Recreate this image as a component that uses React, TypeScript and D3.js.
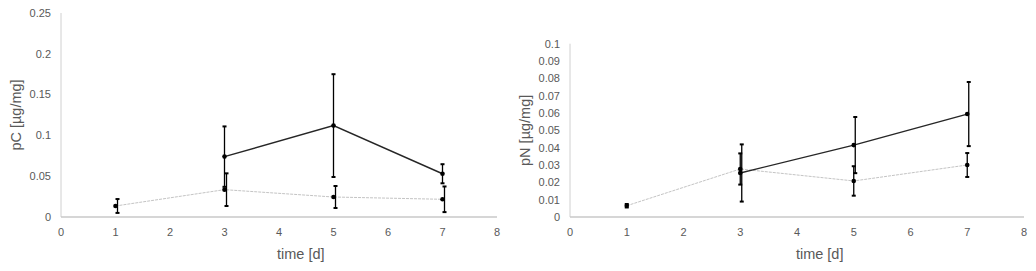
import React from 'react';
import * as d3 from 'd3';

// time points [d]
const days = [1, 3, 5, 7];
const xTicks = [0, 1, 2, 3, 4, 5, 6, 7, 8];

// pC [µg/mg]
const pcDark = [null, 0.074, 0.112, 0.053];
const pcDarkErr = [null, 0.037, 0.063, 0.0117];
const pcLight = [0.0135, 0.0335, 0.0245, 0.0217];
const pcLightErr = [0.0085, 0.02, 0.0135, 0.0157];
const pcTicks = [0, 0.05, 0.1, 0.15, 0.2, 0.25];

// pN [µg/mg]
const pnDark = [null, 0.0254, 0.0415, 0.0594];
const pnDarkErr = [null, 0.0165, 0.0162, 0.0185];
const pnLight = [0.0065, 0.0277, 0.0208, 0.03];
const pnLightErr = [0.001, 0.009, 0.0085, 0.0069];
const pnTicks = [0, 0.01, 0.02, 0.03, 0.04, 0.05, 0.06, 0.07, 0.08, 0.09, 0.1];

const FONT = '"Liberation Sans", Arial, sans-serif';
const TEXT = '#595959';

interface PanelProps {
  x0: number;
  x1: number;
  yTop: number;
  yMax: number;
  yTicks: number[];
  dark: (number | null)[];
  darkErr: (number | null)[];
  light: number[];
  lightErr: number[];
  yLabel: string;
  darkBarShift: number;
  lightBarShift: number;
}

const Panel: React.FC<PanelProps> = ({
  x0, x1, yTop, yMax, yTicks, dark, darkErr, light, lightErr, yLabel, darkBarShift, lightBarShift,
}) => {
  const yBottom = 217;
  const x = d3.scaleLinear().domain([0, 8]).range([x0, x1]);
  const y = d3.scaleLinear().domain([0, yMax]).range([yBottom, yTop]);

  const darkPts = days
    .map((d, i) => ({ d, v: dark[i], e: darkErr[i] }))
    .filter((p) => p.v !== null) as { d: number; v: number; e: number }[];
  const lightPts = days.map((d, i) => ({ d, v: light[i], e: lightErr[i] }));

  const line = d3
    .line<{ d: number; v: number }>()
    .x((p) => x(p.d))
    .y((p) => y(p.v));

  const errBar = (cx: number, v: number, e: number, key: string) => (
    <g key={key} stroke="#000" strokeWidth={1.3}>
      <line x1={cx} x2={cx} y1={y(v + e)} y2={y(v - e)} />
      <line x1={cx - 2} x2={cx + 2} y1={y(v + e)} y2={y(v + e)} strokeWidth={2} />
      <line x1={cx - 2} x2={cx + 2} y1={y(v - e)} y2={y(v - e)} strokeWidth={2} />
    </g>
  );

  const fmt = (t: number) => String(+t.toFixed(3));
  const midY = (yTop + yBottom) / 2;

  return (
    <g>
      {/* axes */}
      <line x1={x0} x2={x0} y1={yTop} y2={yBottom} stroke="#d0d0d0" />
      <line x1={x0} x2={x1} y1={yBottom} y2={yBottom} stroke="#c8c8c8" strokeWidth={1.3} />
      {yTicks.map((t) => (
        <text key={t} x={x0 - 10} y={y(t)} dy="0.35em" textAnchor="end" fontSize={11} fill={TEXT} fontFamily={FONT}>
          {fmt(t)}
        </text>
      ))}
      {xTicks.map((t) => (
        <text key={t} x={x(t)} y={yBottom + 19} textAnchor="middle" fontSize={11} fill={TEXT} fontFamily={FONT}>
          {t}
        </text>
      ))}
      <text
        transform={`translate(${x0 - 40},${midY}) rotate(-90)`}
        textAnchor="middle"
        fontSize={14.5}
        fill={TEXT}
        fontFamily={FONT}
      >
        {yLabel}
      </text>
      <text x={x(4.4)} y={259} textAnchor="middle" fontSize={14.5} fill={TEXT} fontFamily={FONT}>
        time [d]
      </text>

      {/* light series */}
      <path d={line(lightPts) ?? ''} fill="none" stroke="#c4c4c4" strokeWidth={1} strokeDasharray="3,1" />
      {/* dark series */}
      <path d={line(darkPts) ?? ''} fill="none" stroke="#262626" strokeWidth={1.4} />

      {darkPts.map((p, i) => errBar(x(p.d) + darkBarShift, p.v, p.e, `de${i}`))}
      {lightPts.map((p, i) => errBar(x(p.d) + lightBarShift, p.v, p.e, `le${i}`))}

      {darkPts.map((p, i) => (
        <circle key={`dm${i}`} cx={x(p.d)} cy={y(p.v)} r={2.3} fill="#000" />
      ))}
      {lightPts.map((p, i) => (
        <circle key={`lm${i}`} cx={x(p.d)} cy={y(p.v)} r={2.3} fill="#000" />
      ))}
    </g>
  );
};

export default function App() {
  return (
    <svg width={1036} height={271} style={{ position: 'absolute', left: 0, top: 0, background: '#fff' }}>
      <rect width={1036} height={271} fill="#fff" />
      <Panel
        x0={61}
        x1={497}
        yTop={13}
        yMax={0.25}
        yTicks={pcTicks}
        dark={pcDark}
        darkErr={pcDarkErr}
        light={pcLight}
        lightErr={pcLightErr}
        yLabel="pC [µg/mg]"
        darkBarShift={0}
        lightBarShift={2}
      />
      <Panel
        x0={570}
        x1={1024}
        yTop={43.7}
        yMax={0.1}
        yTicks={pnTicks}
        dark={pnDark}
        darkErr={pnDarkErr}
        light={pnLight}
        lightErr={pnLightErr}
        yLabel="pN [µg/mg]"
        darkBarShift={1.5}
        lightBarShift={0}
      />
    </svg>
  );
}
